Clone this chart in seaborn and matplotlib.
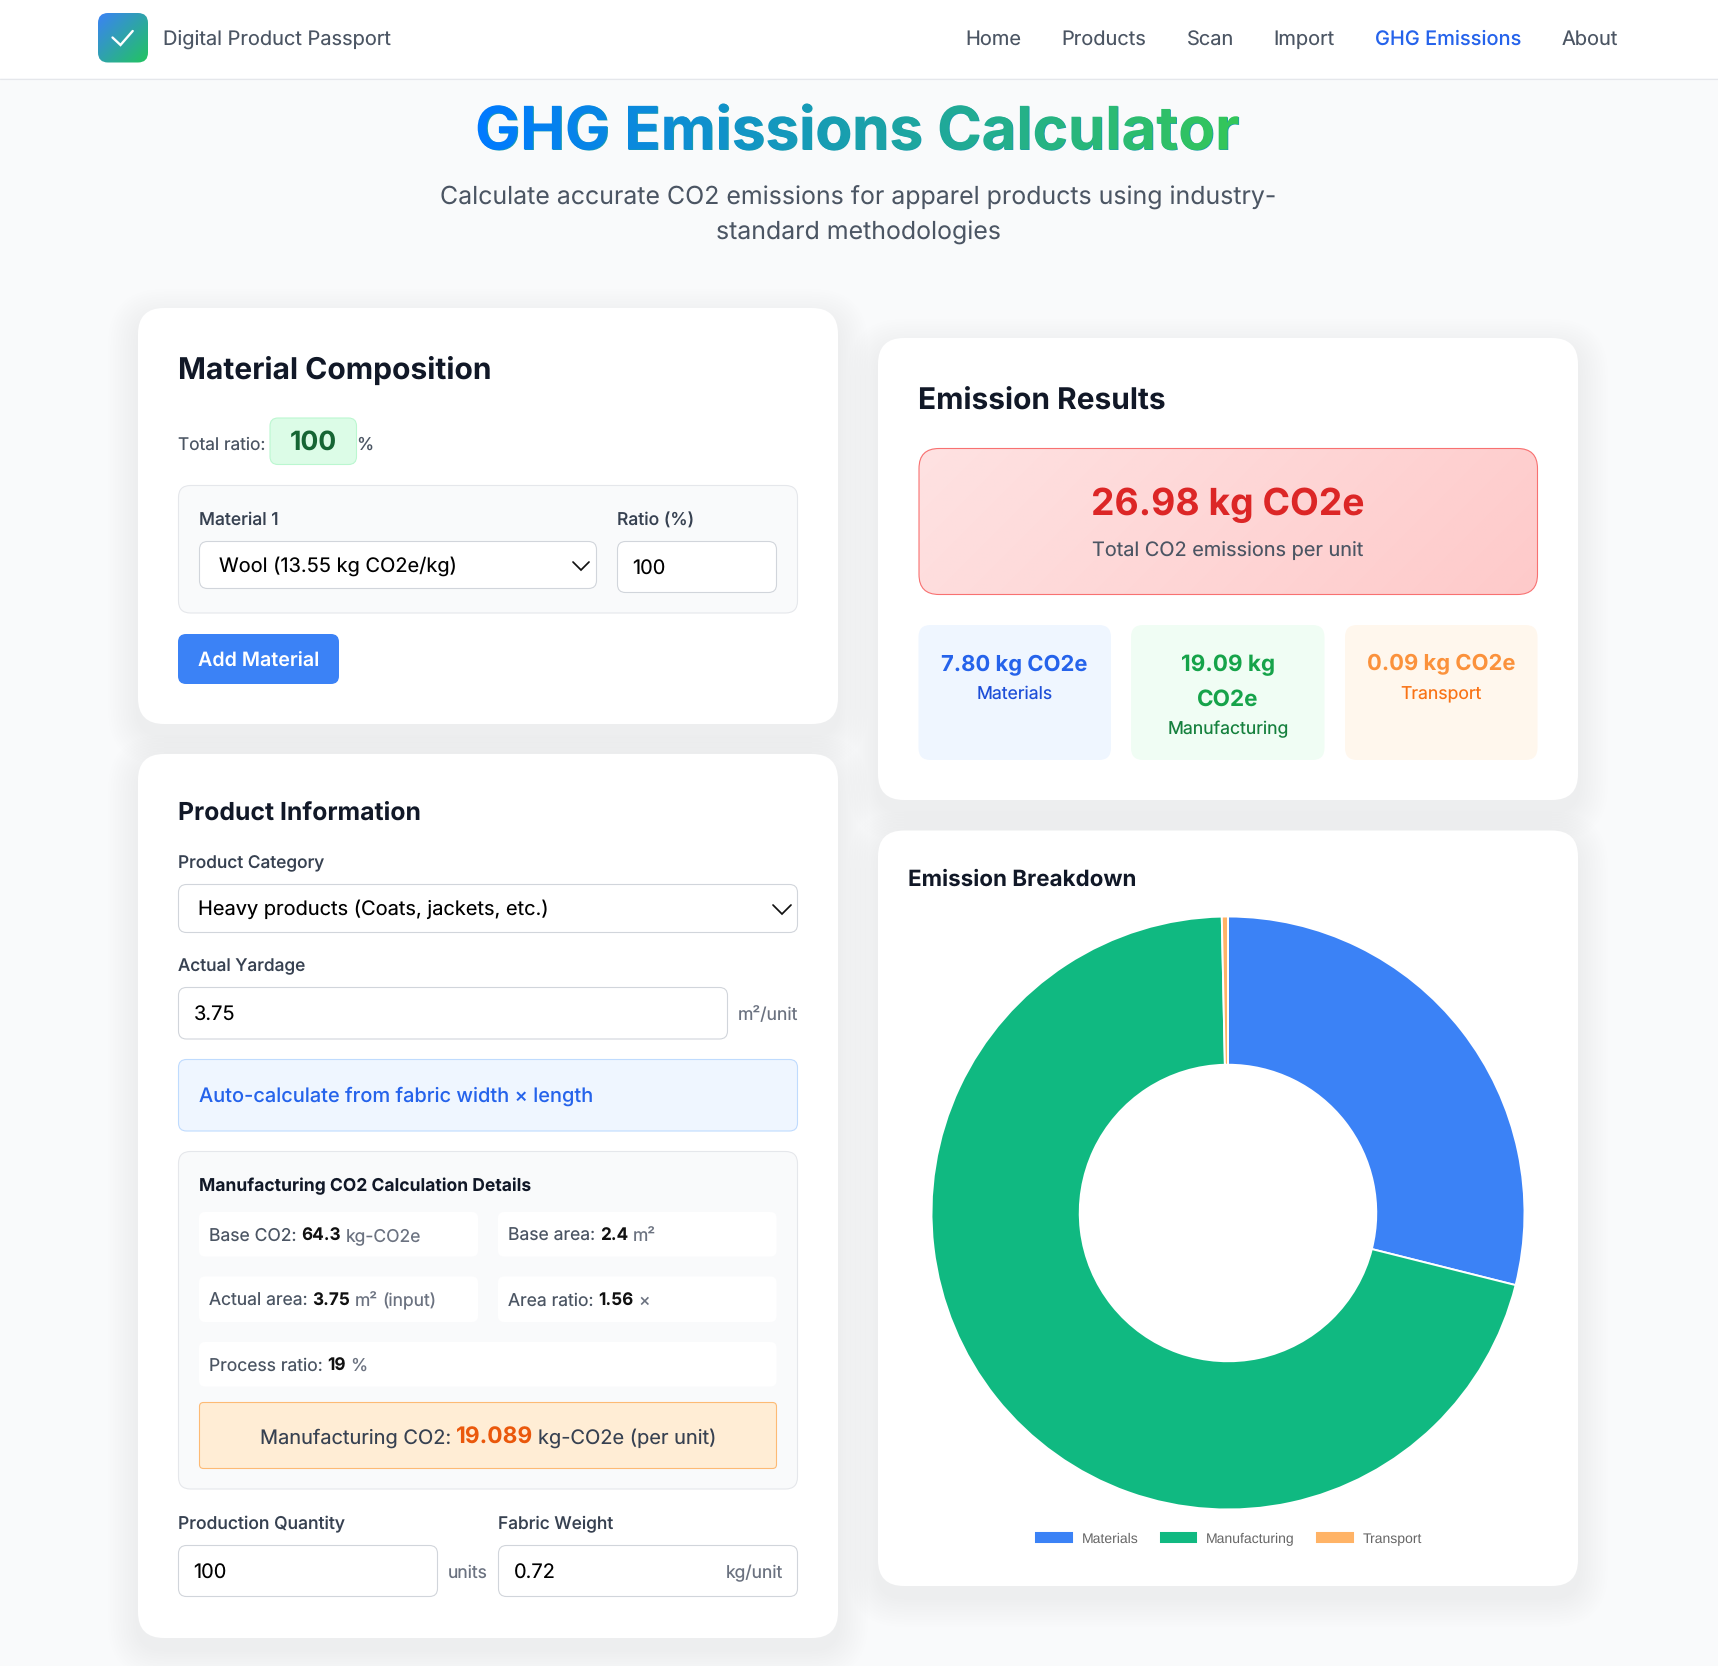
import numpy as np
import matplotlib
matplotlib.use("Agg")
import matplotlib.pyplot as plt
import seaborn as sns
from matplotlib.patches import FancyBboxPatch, PathPatch
from matplotlib.textpath import TextPath
from matplotlib.font_manager import FontProperties
from matplotlib.transforms import Affine2D
from matplotlib.colors import to_rgb

# ---------- data ----------
categories = ["Materials", "Manufacturing", "Transport"]
emissions = [7.80, 19.09, 0.09]
slice_colors = ["#3b82f6", "#10b981", "#ffb366"]
nav_items = ["Home", "Products", "Scan", "Import", "GHG Emissions", "About"]
nav_x = [965.3, 1061.7, 1186.6, 1273.2, 1375, 1561.4]
total_label = "26.98 kg CO2e"

W, H = 1718, 1666
sns.set_theme(style="white")
FONT = "Inter"
plt.rcParams["font.family"] = [FONT, "DejaVu Sans"]
plt.rcParams["text.hinting"] = "none"

fig = plt.figure(figsize=(W / 100, H / 100), dpi=100, facecolor="#f9fafb")
ax = fig.add_axes([0, 0, 1, 1])
ax.set_xlim(0, W)
ax.set_ylim(H, 0)
ax.axis("off")
renderer = fig.canvas.get_renderer()


def T(x, y, s, size=17.5, weight="normal", color="#374151", ha="left", family=None):
    return ax.text(x, y, s, fontsize=size * 0.72, fontweight=weight, color=color,
                   ha=ha, va="baseline", zorder=6, family=family or [FONT, "DejaVu Sans"])


def runs(x, y, parts, center=False):
    """Sequence of text runs: (string, size, weight, color)."""
    items = [T(x, y, s, sz, w, c) for s, sz, w, c in parts]
    widths = [t.get_window_extent(renderer).width for t in items]
    gap = 4.6
    total = sum(widths) + gap * (len(items) - 1)
    cur = x - total / 2 if center else x
    for t, wd in zip(items, widths):
        t.set_x(cur)
        cur += wd + gap


def box(x0, y0, x1, y1, r=8, fc="white", ec="none", lw=1.1, z=2, alpha=None):
    p = FancyBboxPatch((x0 + r, y0 + r), x1 - x0 - 2 * r, y1 - y0 - 2 * r,
                       boxstyle=f"round,pad={r},rounding_size={r}",
                       fc=fc, ec=ec, lw=lw * 0.72, zorder=z, alpha=alpha)
    ax.add_patch(p)
    return p


def gradient(x0, y0, x1, y1, c0, c1, clip, mode="diag", z=2.5):
    n = 128
    xs = np.linspace(0, 1, n)
    ys = np.linspace(0, 1, n)
    X, Y = np.meshgrid(xs, ys)
    t = X if mode == "h" else (X * (x1 - x0) + Y * (y1 - y0)) / ((x1 - x0) + (y1 - y0))
    a, b = np.array(to_rgb(c0)), np.array(to_rgb(c1))
    img = a[None, None, :] * (1 - t[..., None]) + b[None, None, :] * t[..., None]
    im = ax.imshow(img, extent=(x0, x1, y1, y0), aspect="auto", zorder=z, interpolation="bilinear")
    im.set_clip_path(clip)
    ax.set_xlim(0, W)
    ax.set_ylim(H, 0)
    return im


def card(x0, y0, x1, y1):
    for i in range(12):
        g = 30 - i * 2.5
        box(x0 - g, y0 - g + 11, x1 + g, y1 + g + 11, r=26 + g, fc="#000000", z=1, alpha=0.0026)
    box(x0, y0, x1, y1, r=26, fc="white", z=1.5)


def chevron(x0, x1, y0, y1):
    ax.plot([x0, (x0 + x1) / 2, x1], [y0, y1, y0], color="#111111", lw=1.25, zorder=6,
            solid_capstyle="round", solid_joinstyle="miter")


INPUT_EC = "#d1d5db"
LBL = "#374151"
GREY = "#4b5563"
UNIT = "#6b7280"

# ---------- nav ----------
ax.fill_between([0, W], 0, 78, color="white", lw=0, zorder=1)
ax.plot([0, W], [78.5, 78.5], color="#e5e7eb", lw=0.8, zorder=1)
logo = box(98, 13, 148, 62.5, r=10, fc="none")
gradient(98, 13, 148, 62.5, "#3b82f6", "#22c55e", logo)
ax.plot([112.5, 120.5, 132.7], [37.5, 45, 31], color="white", lw=1.7, zorder=6, solid_joinstyle="miter")
T(163, 45, "Digital Product Passport", 20, "normal", GREY)
for s, x in zip(nav_items, nav_x):
    active = s == "GHG Emissions"
    T(x, 45.4 if s == "Scan" else 45, s, 20, "medium" if active else "normal", "#2563eb" if active else GREY)

# ---------- heading ----------
title = "GHG Emissions Calculator"
TS = 60
fp = FontProperties(family=FONT, weight="bold")
T(858, 149.5, title, TS, "bold", "#1a9db0", ha="center")
tp = TextPath((0, 0), title, size=TS, prop=fp)
ext = tp.get_extents()
tx0 = 858 - ext.width / 2 - ext.x0
clip_patch = PathPatch(tp, fc="none", ec="none",
                       transform=Affine2D().scale(1, -1).translate(tx0, 149.5) + ax.transData, zorder=7)
ax.add_patch(clip_patch)
gradient(477, 95, 1240, 165, "#007aff", "#34c759", clip_patch, mode="h", z=7)
T(858, 204.6, "Calculate accurate CO2 emissions for apparel products using industry-", 24.9, "normal", GREY, ha="center")
T(858, 240, "standard methodologies", 24.9, "normal", GREY, ha="center")

# ---------- material composition ----------
card(138, 308, 838, 724)
T(178, 379, "Material Composition", 30, "bold", "#111827")
T(178, 450, "Total ratio:", 17.3, "normal", GREY)
box(270, 418, 356.5, 464.5, r=8, fc="#dcfce7", ec="#bbf7d0", z=3)
T(313, 449.6, "100", 26.5, "bold", "#166534", ha="center")
T(356.5, 450, "%", 17.5, "normal", GREY)
box(178.5, 485.5, 797.5, 613, r=12, fc="#f9fafb", ec="#e5e7eb", z=2)
T(199, 525, "Material 1", 17.5, "medium", LBL)
T(617, 526, "Ratio (%)", 17.5, "medium", LBL)
box(199.5, 541.5, 596.5, 588.5, r=8, ec=INPUT_EC, z=3)
T(219, 572, "Wool (13.55 kg CO2e/kg)", 20, "normal", "#000000")
chevron(573, 589, 562, 570)
box(617.5, 541.5, 776.5, 592.5, r=8, ec=INPUT_EC, z=3)
T(632.5, 574, "100", 20, "normal", "#000000")
box(178, 634, 339, 684, r=8, fc="#3b82f6", z=3)
T(258.5, 666, "Add Material", 19.7, "semibold", "white", ha="center")

# ---------- product information ----------
card(138, 754, 838, 1638)
T(178, 819.6, "Product Information", 24.8, "bold", "#111827")
T(178, 868, "Product Category", 17.3, "medium", LBL)
box(178.5, 884.5, 797.5, 932.5, r=8, ec=INPUT_EC, z=3)
T(198, 915, "Heavy products (Coats, jackets, etc.)", 20, "normal", "#000000")
chevron(773, 791, 905, 914)
T(178, 971.5, "Actual Yardage", 17.3, "medium", LBL)
box(178.5, 987.5, 727.5, 1039, r=8, ec=INPUT_EC, z=3)
T(194, 1020, "3.75", 20, "normal", "#000000")
T(737.5, 1020, "m²/unit", 17.6, "normal", UNIT)
box(178.5, 1059.5, 797.5, 1131, r=8, fc="#eff6ff", ec="#bfdbfe", z=3)
T(199, 1102, "Auto-calculate from fabric width × length", 20, "medium", "#2563eb")

box(178.5, 1151.5, 797.5, 1489, r=12, fc="#f9fafb", ec="#e5e7eb", z=2)
T(199, 1191.5, "Manufacturing CO2 Calculation Details", 17.5, "bold", "#111827")
box(199, 1212, 478, 1256.5, r=6, z=3)
box(498, 1212, 776.5, 1256.5, r=6, z=3)
box(199, 1276.5, 478, 1322, r=6, z=3)
box(498, 1276.5, 776.5, 1322, r=6, z=3)
box(199, 1342, 776.5, 1386.5, r=6, z=3)
D = 17.5
B = 17.2
runs(209, 1241, [("Base CO2:", D, "normal", GREY), ("64.3", B, "bold", "#111111"), ("kg-CO2e", D, "normal", UNIT)])
runs(508, 1241, [("Base area:", D, "normal", GREY), ("2.4", B, "bold", "#111111"), ("m²", D, "normal", UNIT)])
runs(209, 1306, [("Actual area:", D, "normal", GREY), ("3.75", B, "bold", "#111111"), ("m²", D, "normal", UNIT), ("(input)", D, "normal", UNIT)])
runs(508, 1306, [("Area ratio:", D, "normal", GREY), ("1.56", B, "bold", "#111111"), ("×", D, "normal", UNIT)])
runs(209, 1371, [("Process ratio:", D, "normal", GREY), ("19", B, "bold", "#111111"), ("%", D, "normal", UNIT)])
box(199.5, 1402.5, 776.5, 1468.5, r=4, fc="#ffedd5", ec="#fdba74", z=3)
runs(488, 1444, [("Manufacturing CO2:", 20, "normal", LBL), ("19.089", 22.8, "bold", "#ea580c"), ("kg-CO2e (per unit)", 20, "normal", LBL)], center=True)

T(178, 1529, "Production Quantity", 17.5, "medium", LBL)
T(498, 1529, "Fabric Weight", 17.3, "medium", LBL)
box(178.5, 1545.5, 437.5, 1596.5, r=8, ec=INPUT_EC, z=3)
T(193.5, 1578, "100", 20, "normal", "#000000")
T(448, 1578, "units", 17.5, "normal", UNIT)
box(498.5, 1545.5, 797.5, 1596.5, r=8, ec=INPUT_EC, z=3)
T(514, 1578, "0.72", 20, "normal", "#000000")
T(783.5, 1578, "kg/unit", 17.5, "normal", UNIT, ha="right")

# ---------- results ----------
card(878, 338, 1578, 800)
T(918.5, 410, "Emission Results", 29.9, "bold", "#111827")
red_clip = box(918.5, 448, 1537.5, 594.5, r=20, fc="none", z=2.4)
gradient(918.5, 448, 1537.5, 594.5, "#fee2e2", "#fecaca", red_clip)
box(919, 448.5, 1537.5, 594.5, r=20, fc="none", ec="#f87171", lw=1.1, z=3)
T(1228, 514.5, total_label, 37.3, "bold", "#dc2626", ha="center")
T(1228, 556.6, "Total CO2 emissions per unit", 19.9, "normal", GREY, ha="center")

box(918.5, 625, 1111, 760, r=12, fc="#eff6ff", z=3)
box(1131, 625, 1324.5, 760, r=12, fc="#f0fdf4", z=3)
box(1345, 625, 1537.5, 760, r=12, fc="#fff7ed", z=3)
T(1014.7, 670.4, f"{emissions[0]:.2f} kg CO2e", 22, "bold", "#2563eb", ha="center")
T(1014.7, 699, categories[0], 17.6, "normal", "#1d4ed8", ha="center")
T(1228, 671, f"{emissions[1]:.2f} kg", 22.5, "bold", "#16a34a", ha="center")
T(1228, 706, "CO2e", 22.5, "bold", "#16a34a", ha="center")
T(1228, 734, categories[1], 17.6, "normal", "#15803d", ha="center")
T(1441, 670.4, f"{emissions[2]:.2f} kg CO2e", 22, "bold", "#fb923c", ha="center")
T(1441, 699, categories[2], 17.6, "normal", "#f97316", ha="center")

# ---------- donut ----------
card(878, 830.5, 1578, 1586)
T(908, 885.5, "Emission Breakdown", 22.4, "bold", "#111827")
cx, cy, R = 1228, 1213, 296.5
pie_ax = fig.add_axes([(cx - R) / W, 1 - (cy + R) / H, 2 * R / W, 2 * R / H], zorder=5)
pie_ax.patch.set_alpha(0)
palette = sns.color_palette(slice_colors)
wedges, _ = pie_ax.pie(emissions, colors=palette, startangle=90, counterclock=False, radius=1,
                       wedgeprops=dict(width=0.5, edgecolor="white", linewidth=1.4))
pie_ax.set_xlim(-1, 1)
pie_ax.set_ylim(-1, 1)
leg = fig.legend(wedges, categories, ncol=3, loc="center", frameon=False,
                 bbox_to_anchor=(1228 / W, 1 - 1538.5 / H),
                 prop=dict(family=["Liberation Sans"], size=10.1), labelcolor="#666666",
                 handlelength=2.85, handleheight=1.05, handletextpad=0.55, columnspacing=1.45,
                 borderpad=0, borderaxespad=0)

fig.savefig("out.png", dpi=100, facecolor=fig.get_facecolor())
